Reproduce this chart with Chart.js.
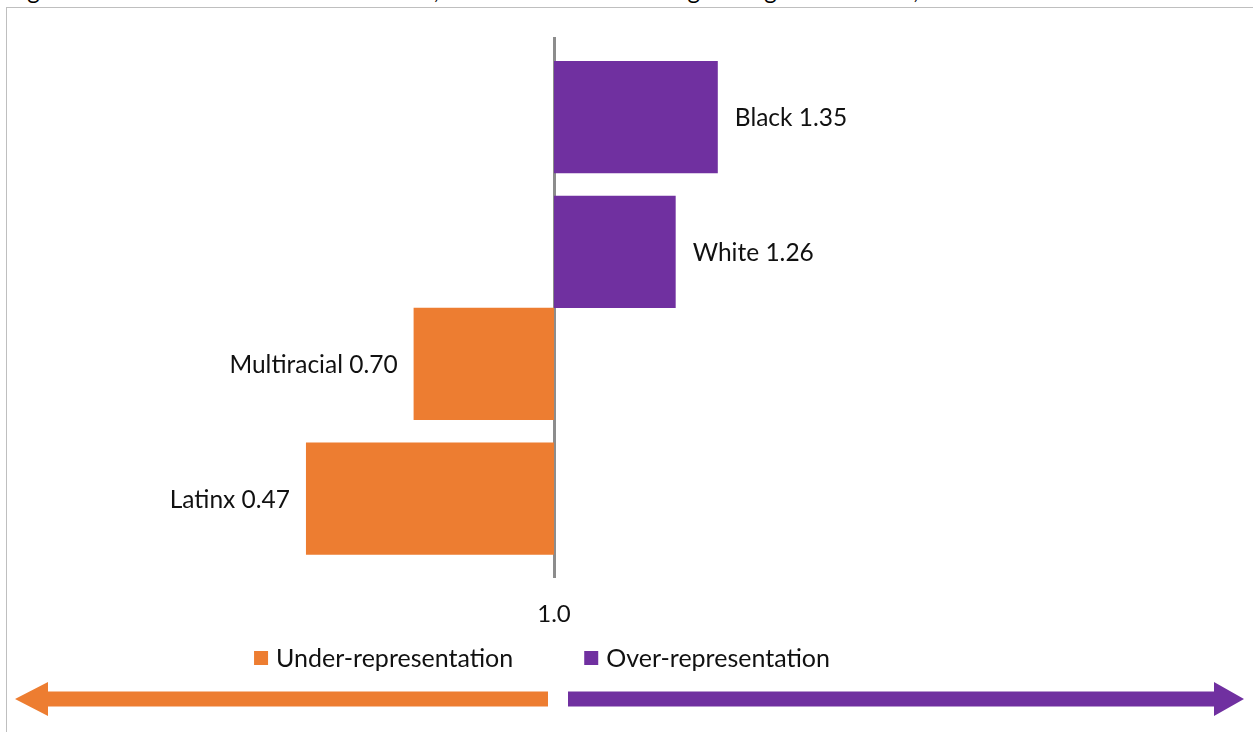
<!DOCTYPE html>
<html>
<head>
<meta charset="utf-8">
<script src="https://cdn.jsdelivr.net/npm/chart.js@4.4.1/dist/chart.umd.min.js"></script>
<style>
html,body{margin:0;padding:0;background:#fff;}
#wrap{position:relative;width:1253px;height:732px;overflow:hidden;background:#fff;}
#frame{position:absolute;left:6px;top:7px;width:1260px;height:740px;border-top:1px solid #bfbfbf;border-left:1px solid #bfbfbf;}
#title{position:absolute;left:8px;top:-22px;font-family:Lato,sans-serif;font-size:24px;line-height:24px;white-space:nowrap;color:#000;}
#c{position:absolute;left:0;top:0;}
</style>
</head>
<body>
<div id="wrap">
  <div id="title">Figure 2: Risk Ratio of Students Referred, Relative to Share among All Eligible Students, 2019</div>
  <div id="frame"></div>
  <canvas id="c" width="1253" height="732"></canvas>
</div>
<script>
// ---- data ----
const categories = ['Black', 'White', 'Multiracial', 'Latinx'];
const underValues = [null, null, 0.70, 0.47];
const overValues = [1.35, 1.26, null, null];
const seriesNames = ['Under-representation', 'Over-representation'];
const baseline = 1.0;
const xTickValues = [1.0];

const ORANGE = '#ED7D31';
const PURPLE = '#7030A0';
const FONT = 'Lato, "Open Sans", sans-serif';

const labelPlugin = {
  id: 'barLabels',
  afterDatasetsDraw(chart) {
    const ctx = chart.ctx;
    ctx.save();
    ctx.font = '24.5px ' + FONT;
    ctx.fillStyle = '#111';
    ctx.textBaseline = 'middle';
    chart.data.datasets.forEach((ds, di) => {
      const meta = chart.getDatasetMeta(di);
      meta.data.forEach((el, i) => {
        const v = ds.data[i];
        if (v === null || v === undefined) return;
        const txt = categories[i] + ' ' + v.toFixed(2);
        if (v >= baseline) {
          ctx.textAlign = 'left';
          ctx.fillText(txt, el.x + 17, el.y + 1);
        } else {
          ctx.textAlign = 'right';
          ctx.fillText(txt, el.x - 16, el.y + 1);
        }
      });
    });
    ctx.restore();
  }
};

const legendArrowPlugin = {
  id: 'legendArrows',
  afterDraw(chart) {
    const ctx = chart.ctx;
    ctx.save();
    // legend
    ctx.font = '25px ' + FONT;
    ctx.textBaseline = 'middle';
    ctx.textAlign = 'left';
    const colors = chart.data.datasets.map(d => d.backgroundColor);
    const box = 14, gapText = 8, gapItem = 71;
    const widths = seriesNames.map(n => box + gapText + ctx.measureText(n).width);
    const total = widths.reduce((a, b) => a + b, 0) + gapItem * (seriesNames.length - 1);
    let x = 542 - total / 2;
    const ly = 658;
    seriesNames.forEach((n, i) => {
      ctx.fillStyle = colors[i];
      ctx.fillRect(x, ly - box / 2, box, box);
      ctx.fillStyle = '#111';
      ctx.fillText(n, x + box + gapText, ly + 1);
      x += widths[i] + gapItem;
    });
    // arrows
    const ay = 699, sh = 7.5, hh = 17;
    ctx.fillStyle = ORANGE;
    ctx.beginPath();
    ctx.moveTo(548, ay - sh); ctx.lineTo(48, ay - sh); ctx.lineTo(48, ay - hh);
    ctx.lineTo(15, ay); ctx.lineTo(48, ay + hh); ctx.lineTo(48, ay + sh);
    ctx.lineTo(548, ay + sh); ctx.closePath(); ctx.fill();
    ctx.fillStyle = PURPLE;
    ctx.beginPath();
    ctx.moveTo(568, ay - sh); ctx.lineTo(1214, ay - sh); ctx.lineTo(1214, ay - hh);
    ctx.lineTo(1244, ay); ctx.lineTo(1214, ay + hh); ctx.lineTo(1214, ay + sh);
    ctx.lineTo(568, ay + sh); ctx.closePath(); ctx.fill();
    ctx.restore();
  }
};

new Chart(document.getElementById('c'), {
  type: 'bar',
  data: {
    labels: categories,
    datasets: [
      { label: seriesNames[0], data: underValues, base: baseline, backgroundColor: ORANGE,
        categoryPercentage: 0.3346, barPercentage: 4.98 },
      { label: seriesNames[1], data: overValues, base: baseline, backgroundColor: PURPLE,
        categoryPercentage: 0.3346, barPercentage: 4.98 }
    ]
  },
  options: {
    indexAxis: 'y',
    responsive: false,
    animation: false,
    events: [],
    layout: { padding: { left: 86, right: 231, top: 38.5, bottom: 89 } },
    plugins: { legend: { display: false }, tooltip: { enabled: false }, title: { display: false } },
    scales: {
      x: {
        type: 'linear', min: 0, max: 2,
        grid: { display: false }, border: { display: false },
        afterBuildTicks: (s) => { s.ticks = xTickValues.map(v => ({ value: v })); },
        ticks: { callback: (v) => Number(v).toFixed(1), font: { family: FONT, size: 24 }, color: '#111', padding: 14.5, maxRotation: 0 }
      },
      y: {
        type: 'category', position: { x: baseline }, z: 1,
        grid: { display: false },
        border: { display: true, color: '#8c8c8c', width: 3 },
        ticks: { display: false }
      }
    }
  },
  plugins: [labelPlugin, legendArrowPlugin]
});
</script>
</body>
</html>
